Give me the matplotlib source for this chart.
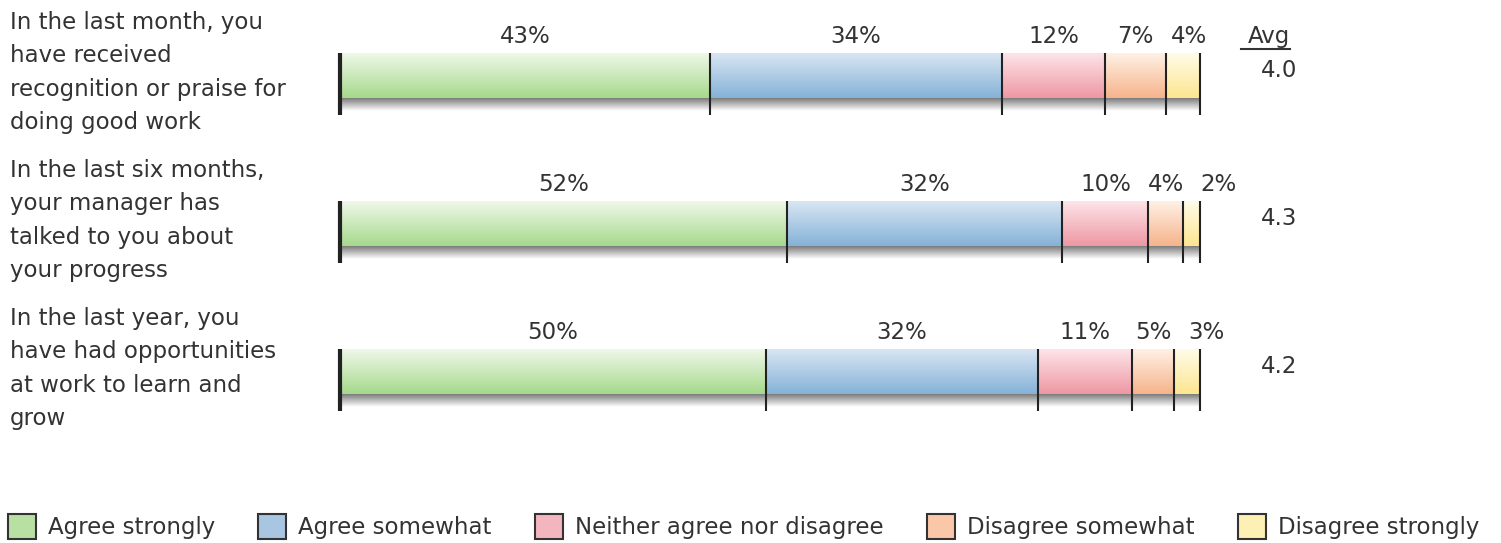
import numpy as np
import matplotlib
matplotlib.use("Agg")
import matplotlib.pyplot as plt
from matplotlib.colors import LinearSegmentedColormap
from matplotlib.patches import Patch
from matplotlib.transforms import blended_transform_factory

QUESTIONS = [
    "In the last month, you\nhave received\nrecognition or praise for\ndoing good work",
    "In the last six months,\nyour manager has\ntalked to you about\nyour progress",
    "In the last year, you\nhave had opportunities\nat work to learn and\ngrow",
]
CATEGORIES = ["Agree strongly", "Agree somewhat", "Neither agree nor disagree",
              "Disagree somewhat", "Disagree strongly"]
PCT = [
    [43, 34, 12, 7, 4],
    [52, 32, 10, 4, 2],
    [50, 32, 11, 5, 3],
]
AVG = ["4.0", "4.3", "4.2"]

# (top, bottom) gradient colours per category
GRAD = [("#eef8e8", "#a6d98c"), ("#d8e6f2", "#86b2d8"), ("#fde4e8", "#ee98a4"),
        ("#fff0e4", "#f6b48c"), ("#fffce8", "#fde690")]
LEG = ["#b8e0a2", "#a8c6e2", "#f4b6be", "#fac8a8", "#fdf0b4"]
TXT = "#333333"

W, H = 1501, 543
fig = plt.figure(figsize=(W / 100, H / 100), dpi=100)
# bars area: x 340..1200 px, rows spaced 148 px
ax = fig.add_axes([340 / W, 1 - 444 / H, 860 / W, 444 / H])
ax.set_xlim(0, 100)
ax.set_ylim(2.49, -0.51)
ax.axis("off")

px = 1 / 148.0
bh = 45 * px
shadow = 13 * px
tick = 62 * px
FS = 16.5

for r, vals in enumerate(PCT):
    v = np.array(vals, float)
    v = v / v.sum() * 100
    edges = np.concatenate([[0], np.cumsum(v)])
    top, bot = r - bh / 2, r + bh / 2
    # shadow under the bar
    sh = LinearSegmentedColormap.from_list("sh", ["#7c7c7c", "#ffffff"])
    ax.imshow(np.linspace(0, 1, 50)[:, None], cmap=sh, aspect="auto",
              extent=(0, 100, bot + shadow, bot), zorder=1)
    for i in range(len(v)):
        cm = LinearSegmentedColormap.from_list("g", GRAD[i])
        ax.imshow(np.linspace(0, 1, 50)[:, None], cmap=cm, aspect="auto",
                  extent=(edges[i], edges[i + 1], bot, top), zorder=2)
    # separators
    for j, e in enumerate(edges):
        lw = 3 if j == 0 else 1.5
        ax.plot([e, e], [top, top + tick], color="#222222", lw=lw, zorder=3,
                solid_capstyle="butt")
    # percentage labels, pushed right when crowded
    prev = -1e9
    for i in range(len(v)):
        x = (edges[i] + edges[i + 1]) / 2
        x = max(x, prev + 6.2)
        prev = x
        ax.text(x, top - 5 * px, f"{vals[i]}%", ha="center", va="bottom",
                fontsize=FS, color=TXT)
    ax.text(111.3, r - 5 * px, AVG[r], ha="right", va="center", fontsize=FS, color=TXT)
    # question label
    tr = blended_transform_factory(fig.transFigure, ax.transData)
    fig.text(10 / W, r - 3 * px, QUESTIONS[r], transform=tr, ha="left", va="center",
             fontsize=FS, color=TXT, linespacing=1.57)

ax.text(110.5, -bh / 2 - 5 * px, "Avg", ha="right", va="bottom", fontsize=FS, color=TXT)
ax.plot([104.8, 110.5], [-bh / 2 - 4 * px] * 2, color=TXT, lw=1.5)
for a in ax.images + ax.lines + ax.texts:
    a.set_clip_on(False)

handles = [Patch(facecolor=LEG[i], edgecolor="#333333", lw=1.5) for i in range(5)]
fig.legend(handles, CATEGORIES, loc="lower left", bbox_to_anchor=(-0.004, -0.018), ncol=5,
           frameon=False, fontsize=FS, handlelength=1.22, handleheight=1.3,
           handletextpad=0.52, columnspacing=1.9, borderaxespad=0.2, labelcolor=TXT)

fig.savefig("out.png", dpi=100)
